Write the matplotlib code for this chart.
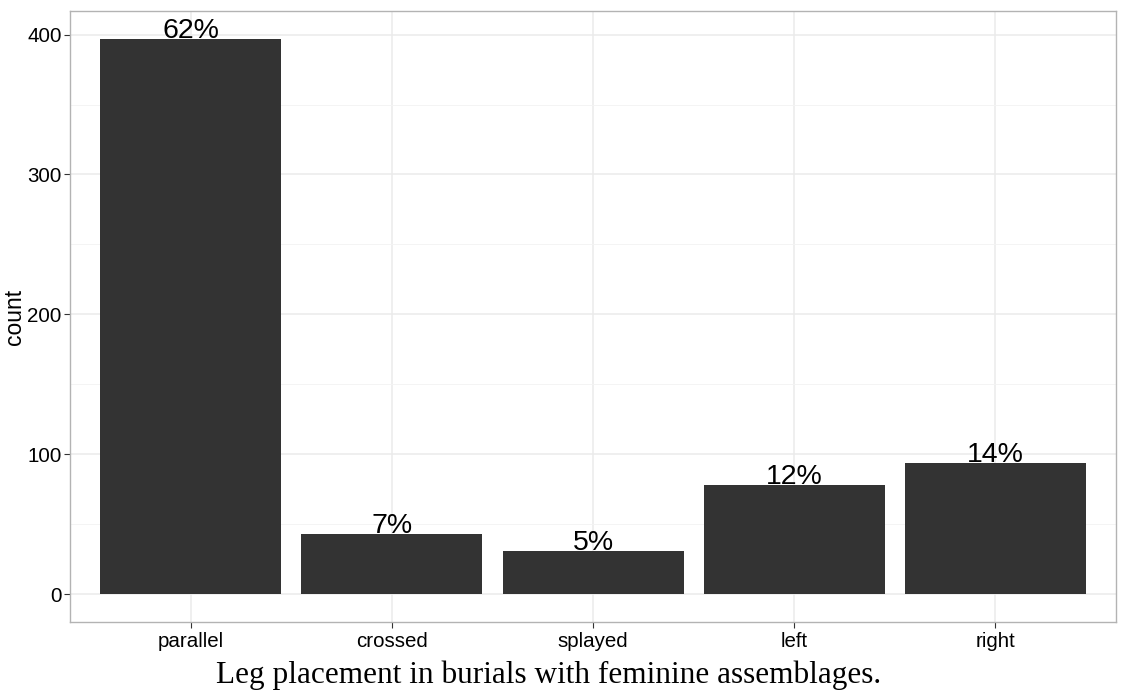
import numpy as np
from matplotlib import pyplot as plt

# data
categorias = ["parallel", "crossed", "splayed", "left", "right"]
conteos = [397, 43, 31, 78, 94]
etiquetas = ["62%", "7%", "5%", "12%", "14%"]

plt.rcParams['font.family'] = ['Liberation Sans', 'DejaVu Sans']

fig = plt.figure(figsize=(11.24, 6.97), dpi=100)
ax = fig.add_axes([0.0623, 0.1076, 0.9306, 0.8766])

x = np.arange(len(categorias))
ax.bar(x, conteos, width=0.9, color='#333333', zorder=3)
for i in range(len(categorias)):
    ax.text(x[i], conteos[i] - 3.5, etiquetas[i], ha='center', va='bottom',
            fontsize=20.5, color='black', zorder=4)

ymax = max(conteos)
ax.set_xlim(-0.6, len(categorias) - 0.4)
ax.set_ylim(-0.05 * ymax, 1.05 * ymax)
ax.set_xticks(x)
ax.set_xticklabels(categorias)
ax.set_yticks([0, 100, 200, 300, 400])
ax.set_yticks([50, 150, 250, 350], minor=True)
ax.grid(True, which='major', color='#ebebeb', linewidth=1.1, zorder=0)
ax.grid(True, which='minor', axis='y', color='#f3f3f3', linewidth=0.6, zorder=0)
ax.tick_params(axis='both', which='major', labelsize=14.8, colors='#333333',
               labelcolor='black', length=4, width=0.8)
ax.tick_params(axis='x', which='major', pad=3)
ax.tick_params(axis='y', which='major', pad=2)
ax.tick_params(axis='y', which='minor', length=0)
for s in ax.spines.values():
    s.set_color('#b3b3b3')
    s.set_linewidth(1)
ax.set_ylabel("count", fontsize=16.5, labelpad=0.5)

fig.text(0.488, 0.031, "Leg placement in burials with feminine assemblages.",
         ha='center', va='center', fontsize=22.5, family=['Liberation Serif', 'DejaVu Serif'])

plt.savefig("out.png", dpi=100)
